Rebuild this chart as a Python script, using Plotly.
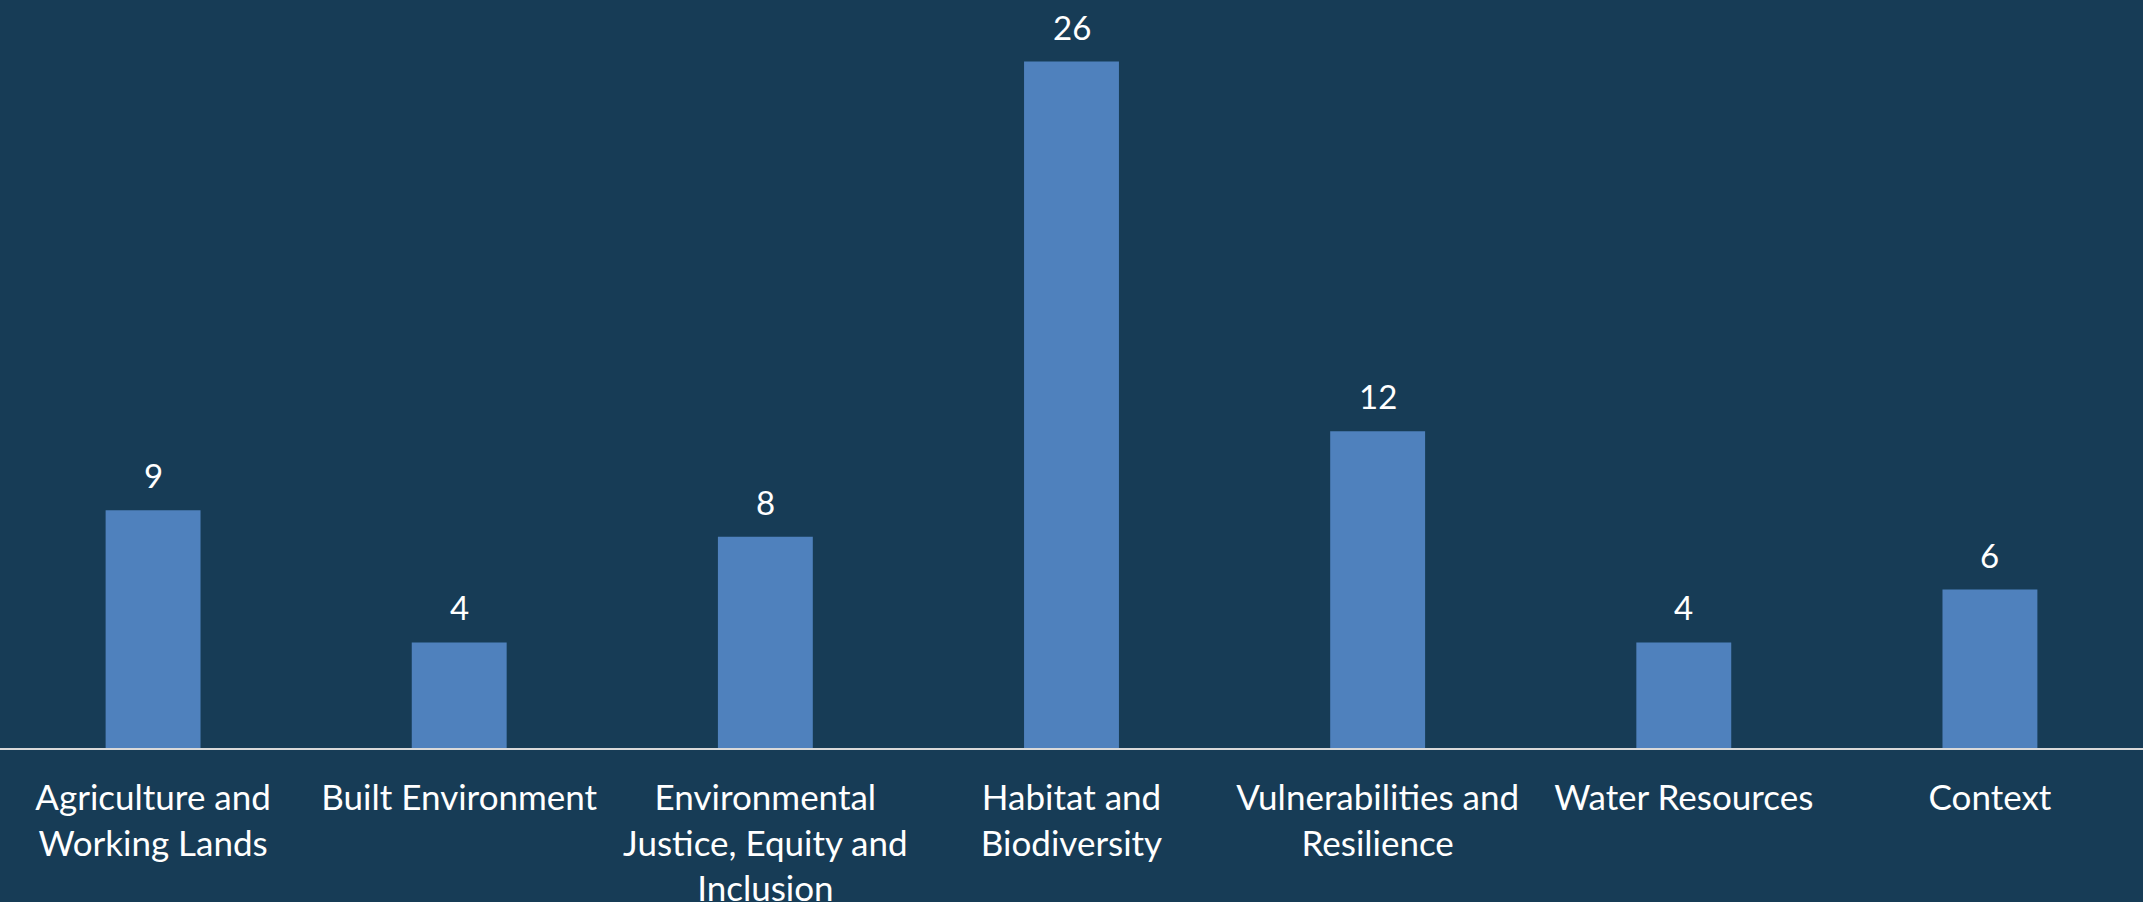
import plotly.graph_objects as go

categories = [
    "Agriculture and<br>Working Lands",
    "Built Environment",
    "Environmental<br>Justice, Equity and<br>Inclusion",
    "Habitat and<br>Biodiversity",
    "Vulnerabilities and<br>Resilience",
    "Water Resources",
    "Context",
]
values = [9, 4, 8, 26, 12, 4, 6]

BG = "#173C56"
BAR = "#4F81BD"
FONT = "Lato"

fig = go.Figure()
fig.add_trace(go.Bar(
    x=categories, y=values,
    marker=dict(color=BAR, line=dict(width=0)),
    hoverinfo="skip",
))

for c, v in zip(categories, values):
    fig.add_annotation(
        x=c, y=v, text=str(v), showarrow=False,
        yanchor="bottom", yshift=13,
        font=dict(family=FONT, size=33, color="white"),
    )

fig.update_layout(
    width=2143, height=902,
    margin=dict(l=0, r=0, t=0, b=154, autoexpand=False),
    paper_bgcolor=BG, plot_bgcolor=BG,
    bargap=0.69,
    showlegend=False,
    font=dict(family=FONT, size=35, color="white"),
)
fig.update_xaxes(
    showline=True, linecolor="#D9D9D9", linewidth=2,
    showgrid=False, zeroline=False, ticks="",
    tickfont=dict(family=FONT, size=35, color="white"),
    ticklabelstandoff=18, automargin=False,
    range=[-0.5, 6.5], fixedrange=True,
)
fig.update_yaxes(
    visible=False, range=[0, 28.33], showgrid=False, zeroline=False,
    fixedrange=True, automargin=False,
)

fig.write_html(
    "out.html",
    config={"displayModeBar": False},
    post_script="document.body.style.margin='0';document.body.style.background='" + BG + "';",
)
